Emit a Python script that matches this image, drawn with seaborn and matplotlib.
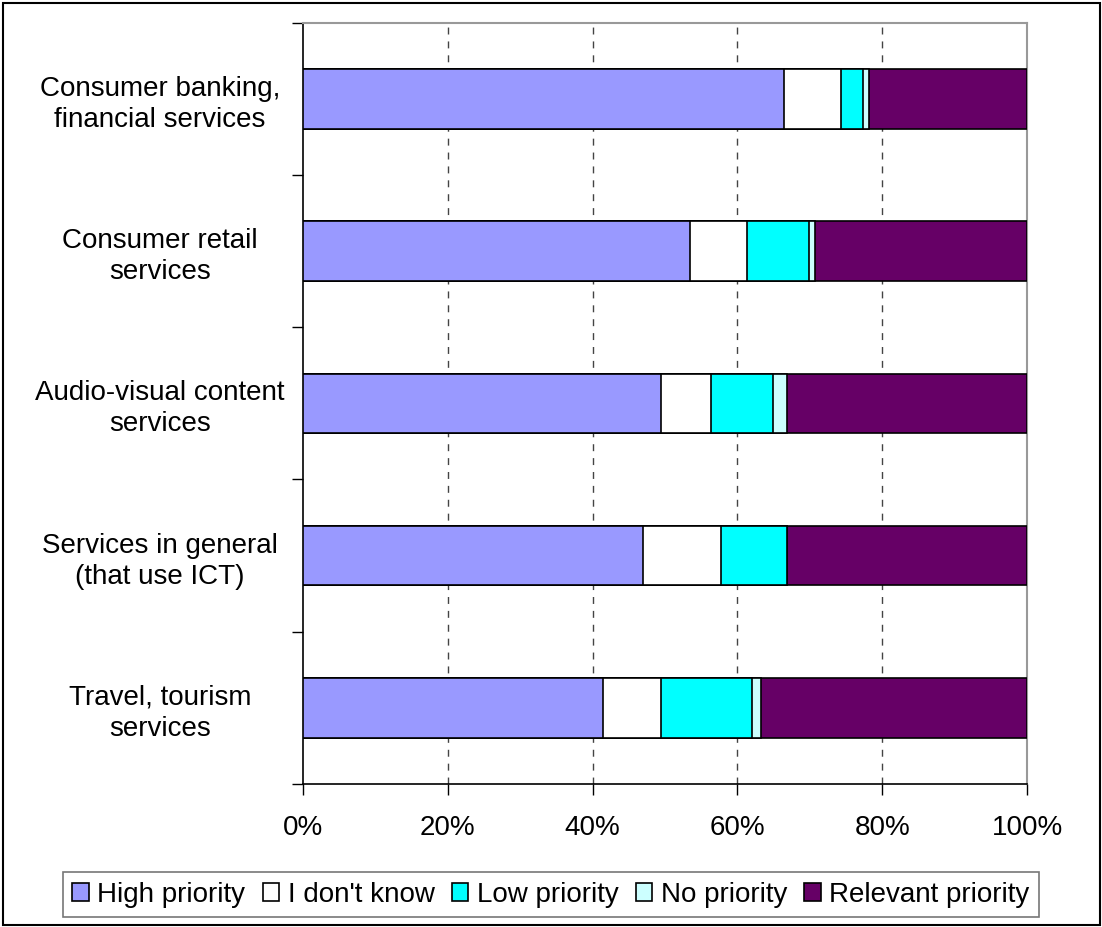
import numpy as np
import pandas as pd
import matplotlib
matplotlib.use("Agg")
import matplotlib.pyplot as plt
import seaborn as sns
from matplotlib.patches import Patch, Rectangle

categories = [
    "Consumer banking,\nfinancial services",
    "Consumer retail\nservices",
    "Audio-visual content\nservices",
    "Services in general\n(that use ICT)",
    "Travel, tourism\nservices",
]
series = ["High priority", "I don't know", "Low priority", "No priority", "Relevant priority"]
high = [66.4, 53.4, 49.5, 46.9, 41.4]
dont_know = [7.9, 7.9, 6.8, 10.8, 8.1]
low = [3.1, 8.6, 8.6, 9.1, 12.5]
no_prio = [0.8, 0.8, 1.9, 0.0, 1.2]
relevant = [21.8, 29.3, 33.2, 33.2, 36.8]
colors = ["#9999FF", "#FFFFFF", "#00FFFF", "#CCFFFF", "#660066"]

sns.set_theme(style="white")
plt.rcParams["font.family"] = ["Liberation Sans", "DejaVu Sans"]
plt.rcParams["text.color"] = "black"
plt.rcParams["xtick.color"] = "black"
plt.rcParams["ytick.color"] = "black"

df = pd.DataFrame({"Category": categories, "High priority": high, "I don't know": dont_know,
                   "Low priority": low, "No priority": no_prio, "Relevant priority": relevant})
cum = df[series].cumsum(axis=1)
# normalise to 100%
cum = cum.div(cum[series[-1]], axis=0) * 100

fs = 20

fig = plt.figure(figsize=(11.02, 9.27), dpi=100)
ax = fig.add_axes([303 / 1102, 1 - 784 / 927, (1027 - 303) / 1102, (784 - 22.7) / 927])

# draw cumulative totals from largest to smallest so each segment shows
for s, c in reversed(list(zip(series, colors))):
    sns.barplot(x=cum[s], y=df["Category"], orient="h", color=c, ax=ax,
                width=0.39, edgecolor="black", linewidth=1.2, saturation=1, zorder=3)

ax.set_xlim(0, 100)
ax.set_ylim(4.5, -0.5)
ax.set_xlabel("")
ax.set_ylabel("")
ax.set_xticks([0, 20, 40, 60, 80, 100])
ax.set_xticklabels(["0%", "20%", "40%", "60%", "80%", "100%"], fontsize=fs)
ax.set_yticks(np.arange(-0.5, 5, 1))
ax.set_yticklabels([])
ax.set_yticks(range(len(categories)), minor=True)
ax.set_yticklabels(categories, minor=True, fontsize=fs, ha="center", linespacing=1.25)
ax.tick_params(axis="y", which="minor", length=0, pad=103)
ax.tick_params(axis="y", which="major", length=8, width=1, color="black", direction="out", left=True)
ax.tick_params(axis="x", length=8, width=1, color="black", direction="out", bottom=True, pad=14)

for x in [20, 40, 60, 80]:
    ax.axvline(x, color="#444444", linestyle=(0, (5, 5)), linewidth=1, zorder=1)

for side in ["left", "bottom"]:
    ax.spines[side].set_color("black")
    ax.spines[side].set_linewidth(1.2)
for side in ["top", "right"]:
    ax.spines[side].set_color("#999999")
    ax.spines[side].set_linewidth(1.5)

handles = [Patch(facecolor=c, edgecolor="black", linewidth=1.2, label=s) for s, c in zip(series, colors)]
leg = fig.legend(handles=handles, loc="center", bbox_to_anchor=(551 / 1102, 1 - 894.5 / 927), ncol=5,
                 fontsize=fs, frameon=True, fancybox=False, handlelength=0.6, handleheight=0.6,
                 handletextpad=0.3, columnspacing=0.62, borderpad=0.35, borderaxespad=0)
leg.get_frame().set_edgecolor("#555555")
leg.get_frame().set_linewidth(1.2)

fig.patches.append(Rectangle((3 / 1102, 2 / 927), 1097 / 1102, 922 / 927, transform=fig.transFigure,
                             fill=False, edgecolor="black", linewidth=1.5))

fig.savefig("out.png", dpi=100)
